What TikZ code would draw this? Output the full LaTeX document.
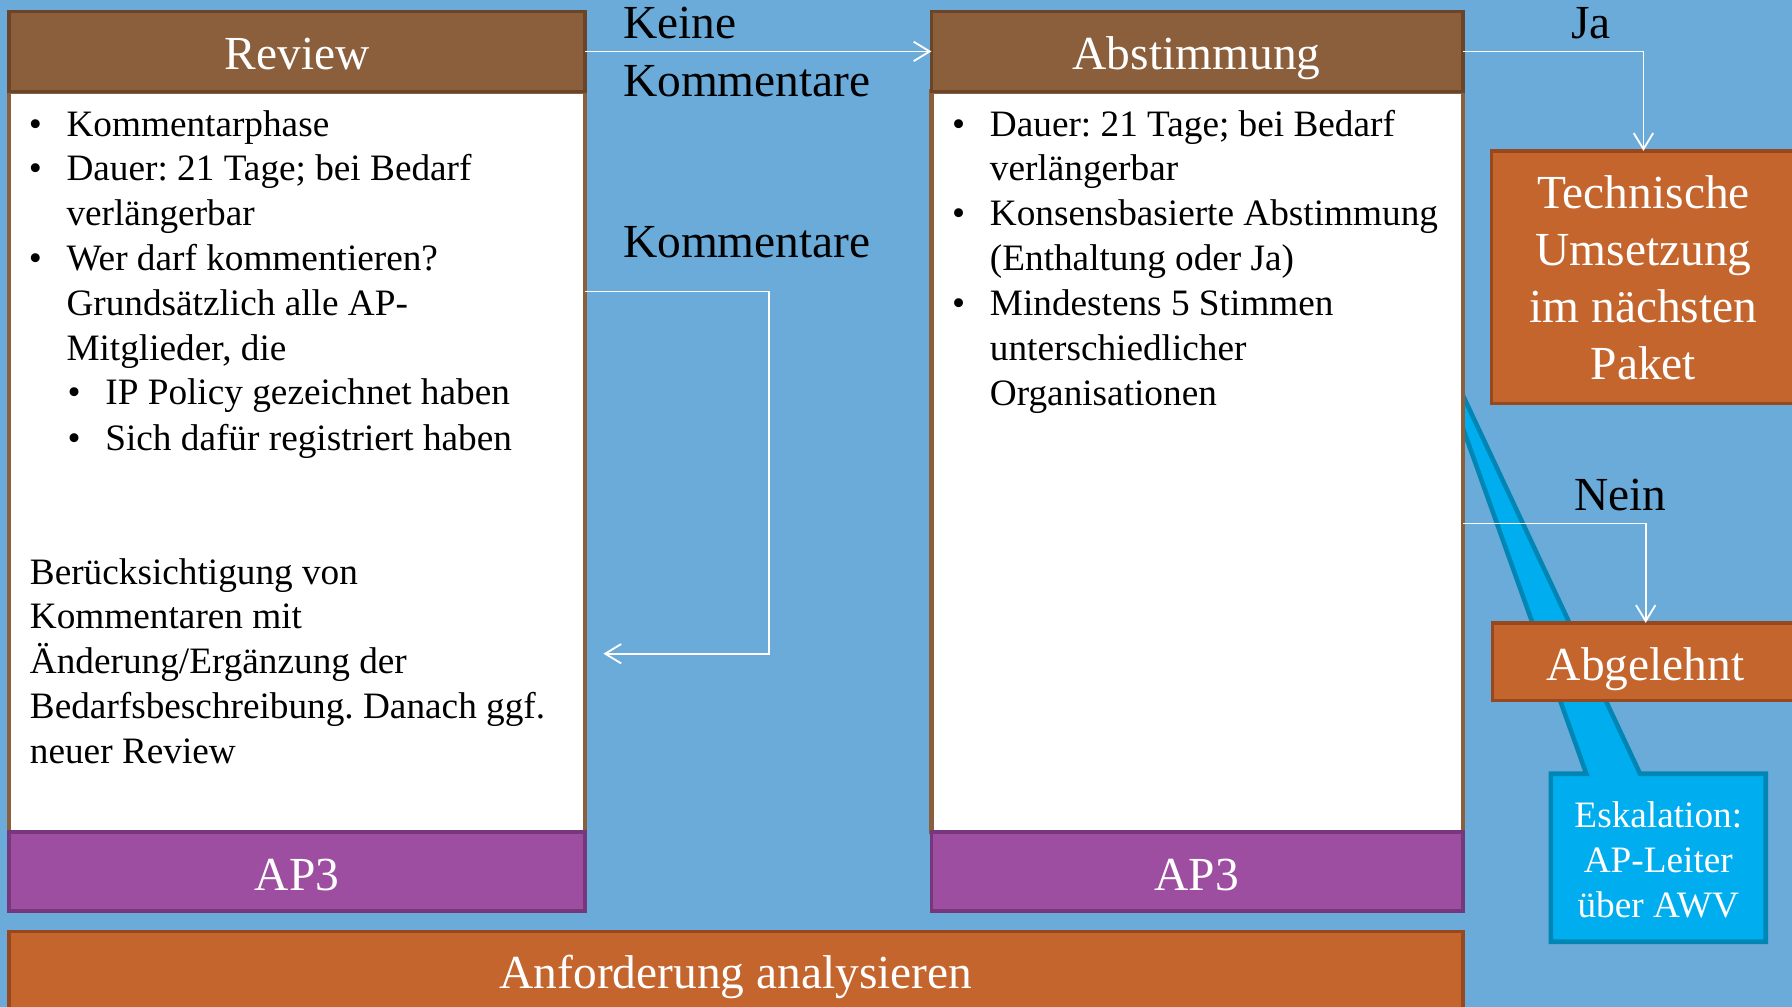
\documentclass[tikz,border=0pt]{standalone}
\usepackage{fontspec}
\setmainfont{Liberation Serif}
\usetikzlibrary{arrows.meta}
\frenchspacing
\definecolor{bgblue}{RGB}{107,171,217}
\definecolor{hdrbrown}{RGB}{139,94,60}
\definecolor{hdrline}{RGB}{108,69,41}
\definecolor{appurple}{RGB}{158,78,161}
\definecolor{apline}{RGB}{118,56,122}
\definecolor{orfill}{RGB}{197,101,46}
\definecolor{orline}{RGB}{152,72,30}
\definecolor{cyfill}{RGB}{0,174,239}
\definecolor{cyline}{RGB}{0,134,180}
\tikzset{
  box/.style={rectangle, inner sep=0pt, outer sep=0pt},
  hdrbox/.style={box, fill=hdrbrown, draw=hdrline, line width=3pt},
  bodybox/.style={box, fill=white, draw=hdrbrown, line width=4pt},
  apbox/.style={box, fill=appurple, draw=apline, line width=3pt},
  orbox/.style={box, fill=orfill, draw=orline, line width=3pt},
  bigtxt/.style={inner sep=0pt, font=\fontsize{41.5}{50}\selectfont\frenchspacing},
  smalltxt/.style={inner sep=0pt, font=\fontsize{32.6}{39.3}\selectfont\frenchspacing},
  conn/.style={draw=white, line width=1.6pt, -{Straight Barb[length=14pt,width=17pt,line width=1.6pt]}},
}
\newcommand\bul[2]{\makebox[33pt][l]{\textbullet}\parbox[t]{#1}{\raggedright #2}}
\begin{document}
\begin{tikzpicture}[x=1pt,y=-1pt]
\useasboundingbox (0,0) rectangle (1568,881);
\clip (0,0) rectangle (1568,881);
\fill[bgblue] (0,0) rectangle (1568,881);
% callout
\path[fill=cyfill, draw=cyline, line width=4pt] (1357,677) -- (1388,677) -- (1237,254) -- (1435,677) -- (1545,677) -- (1545,824) -- (1357,824) -- cycle;
% boxes
\node[bodybox, minimum width=504pt, minimum height=648pt] (revbody) at (260,404) {};
\node[hdrbox, minimum width=504pt, minimum height=70pt] (revhead) at (260,45) {};
\node[apbox, minimum width=504pt, minimum height=69pt] (revap) at (260,762.5) {};
\node[bodybox, minimum width=465pt, minimum height=648pt] (absbody) at (1047.5,404) {};
\node[hdrbox, minimum width=465pt, minimum height=70pt] (abshead) at (1047.5,45) {};
\node[apbox, minimum width=465pt, minimum height=69pt] (absap) at (1047.5,762.5) {};
\node[orbox, minimum width=1272pt, minimum height=80pt] (anf) at (644,855) {};
\node[orbox, minimum width=275pt, minimum height=221pt] (tech) at (1442.5,242.5) {};
\node[orbox, minimum width=274pt, minimum height=68pt] (abg) at (1443,579) {};
% connectors
\draw[conn] (revhead.east) -- (abshead.west);
\coordinate (loopend) at ([xshift=16pt,yshift=-168pt]revbody.east);
\draw[conn] ([yshift=149pt]revbody.east) -- ++(161,0) |- (loopend);
\draw[conn] (abshead.east) -| ([xshift=-4.5pt]tech.north);
\draw[conn] ([yshift=-54pt]absbody.east) -| ([xshift=-3pt]abg.north);
% titles
\node[bigtxt, text=white, anchor=base] (trev) at (260,61) {Review};
\node[bigtxt, text=white, anchor=base] (tabs) at (1047,61) {Abstimmung};
\node[bigtxt, text=white, anchor=base] (tap1) at (260,779) {AP3};
\node[bigtxt, text=white, anchor=base] (tap2) at (1047,779) {AP3};
\node[bigtxt, text=white, anchor=base] (tanf) at (644,865) {Anforderung analysieren};
\node[bigtxt, text=white, anchor=base] (ttech) at (1438,182) {\parbox[t]{260pt}{\centering Technische\\Umsetzung\\im nächsten\\Paket}};
\node[bigtxt, text=white, anchor=base] (tabg) at (1440,595) {Abgelehnt};
\node[smalltxt, text=white, anchor=base] (tesk) at (1451,724) {\parbox[t]{185pt}{\centering Eskalation:\\AP-Leiter\\über AWV}};
% labels
\node[bigtxt, anchor=base west] (lkeine) at (545,34) {\parbox[t]{250pt}{Keine\\Kommentare}};
\node[bigtxt, anchor=base west] (lkomm) at (545,225) {Kommentare};
\node[bigtxt, anchor=base] (lja) at (1392,34) {Ja};
\node[bigtxt, anchor=base] (lnein) at (1418,447) {Nein};
% review body
\node[smalltxt, anchor=base west] (r1) at (25,119) {\bul{430pt}{Kommentarphase}};
\node[smalltxt, anchor=base west] (r2) at (25,158) {\bul{430pt}{Dauer: 21 Tage; bei Bedarf\\verlängerbar}};
\node[smalltxt, anchor=base west] (r3) at (25,237) {\bul{430pt}{Wer darf kommentieren?\\Grundsätzlich alle AP-\\Mitglieder, die}};
\node[smalltxt, anchor=base west] (r4) at (59,354) {\bul{400pt}{IP Policy gezeichnet haben}};
\node[smalltxt, anchor=base west] (r5) at (59,394) {\bul{400pt}{Sich dafür registriert haben}};
\node[smalltxt, anchor=base west] (r6) at (26,511) {\parbox[t]{480pt}{\raggedright Berücksichtigung von\\Kommentaren mit\\Änderung/Ergänzung der\\Bedarfsbeschreibung. Danach ggf.\\neuer Review}};
% abstimmung body
\node[smalltxt, anchor=base west] (a1) at (833,119) {\bul{420pt}{Dauer: 21 Tage; bei Bedarf\\verlängerbar}};
\node[smalltxt, anchor=base west] (a2) at (833,197) {\bul{420pt}{Konsensbasierte Abstimmung\\(Enthaltung oder Ja)}};
\node[smalltxt, anchor=base west] (a3) at (833,276) {\bul{420pt}{Mindestens 5 Stimmen\\unterschiedlicher\\Organisationen}};
\end{tikzpicture}
\end{document}
